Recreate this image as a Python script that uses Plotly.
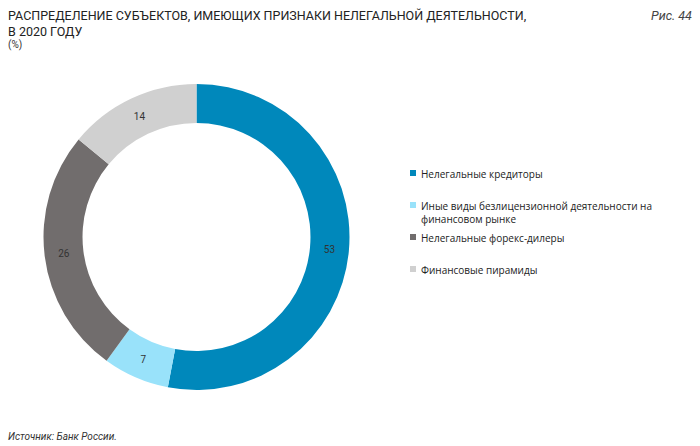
import plotly.graph_objects as go

# Data
categories = [
    "Нелегальные кредиторы",
    "Иные виды безлицензионной деятельности на<br>финансовом рынке",
    "Нелегальные форекс-дилеры",
    "Финансовые пирамиды",
]
values = [53, 7, 26, 14]
colors = ["#0088BB", "#99E2FA", "#716D6D", "#D0D0D0"]

W, H = 700, 446

fig = go.Figure()
fig.add_trace(go.Pie(
    labels=categories,
    values=values,
    marker=dict(colors=colors, line=dict(width=0)),
    hole=0.745,
    sort=False,
    direction="clockwise",
    rotation=0,
    textinfo="value",
    textposition="inside",
    insidetextorientation="horizontal",
    textfont=dict(family="Roboto", size=10, color="#333333"),
    showlegend=False,
    domain=dict(x=[43.5 / W, 349.5 / W], y=[(H - 390) / H, (H - 84) / H]),
))

# Manual legend (layout positions only)
legend_y = [173, 205, 237, 269]
for lab, col, yy in zip(categories, colors, legend_y):
    fig.add_shape(type="rect", xref="paper", yref="paper",
                  x0=410 / W, x1=416 / W,
                  y0=(H - yy - 3) / H, y1=(H - yy + 3) / H,
                  fillcolor=col, line=dict(width=0))
    fig.add_annotation(x=419 / W, y=(H - yy + 8) / H, xref="paper", yref="paper",
                       text=lab, showarrow=False, xanchor="left", yanchor="top",
                       align="left",
                       font=dict(family="Open Sans", size=10, color="#222222"))

fig.add_annotation(x=6 / W, y=(H - 6) / H, xref="paper", yref="paper",
                   text="РАСПРЕДЕЛЕНИЕ СУБЪЕКТОВ, ИМЕЮЩИХ ПРИЗНАКИ НЕЛЕГАЛЬНОЙ ДЕЯТЕЛЬНОСТИ,<br>В 2020 ГОДУ",
                   showarrow=False, xanchor="left", yanchor="top", align="left",
                   font=dict(family="Roboto", size=12.5, color="#222222"))
fig.add_annotation(x=6 / W, y=(H - 37) / H, xref="paper", yref="paper",
                   text="(%)", showarrow=False, xanchor="left", yanchor="top",
                   font=dict(family="Roboto", size=10, color="#333333"))
fig.add_annotation(x=694 / W, y=(H - 6) / H, xref="paper", yref="paper",
                   text="<i>Рис. 44</i>", showarrow=False, xanchor="right", yanchor="top",
                   font=dict(family="Roboto", size=12.5, color="#444444"))
fig.add_annotation(x=6 / W, y=(H - 429) / H, xref="paper", yref="paper",
                   text="<i>Источник: Банк России.</i>", showarrow=False, xanchor="left", yanchor="top",
                   font=dict(family="Roboto", size=10, color="#333333"))

fig.update_layout(width=W, height=H, margin=dict(l=0, r=0, t=0, b=0),
                  paper_bgcolor="white", plot_bgcolor="white")

fig.write_html("out.html", config={"displayModeBar": False},
               post_script="document.body.style.margin='0';document.body.style.overflow='hidden';")
